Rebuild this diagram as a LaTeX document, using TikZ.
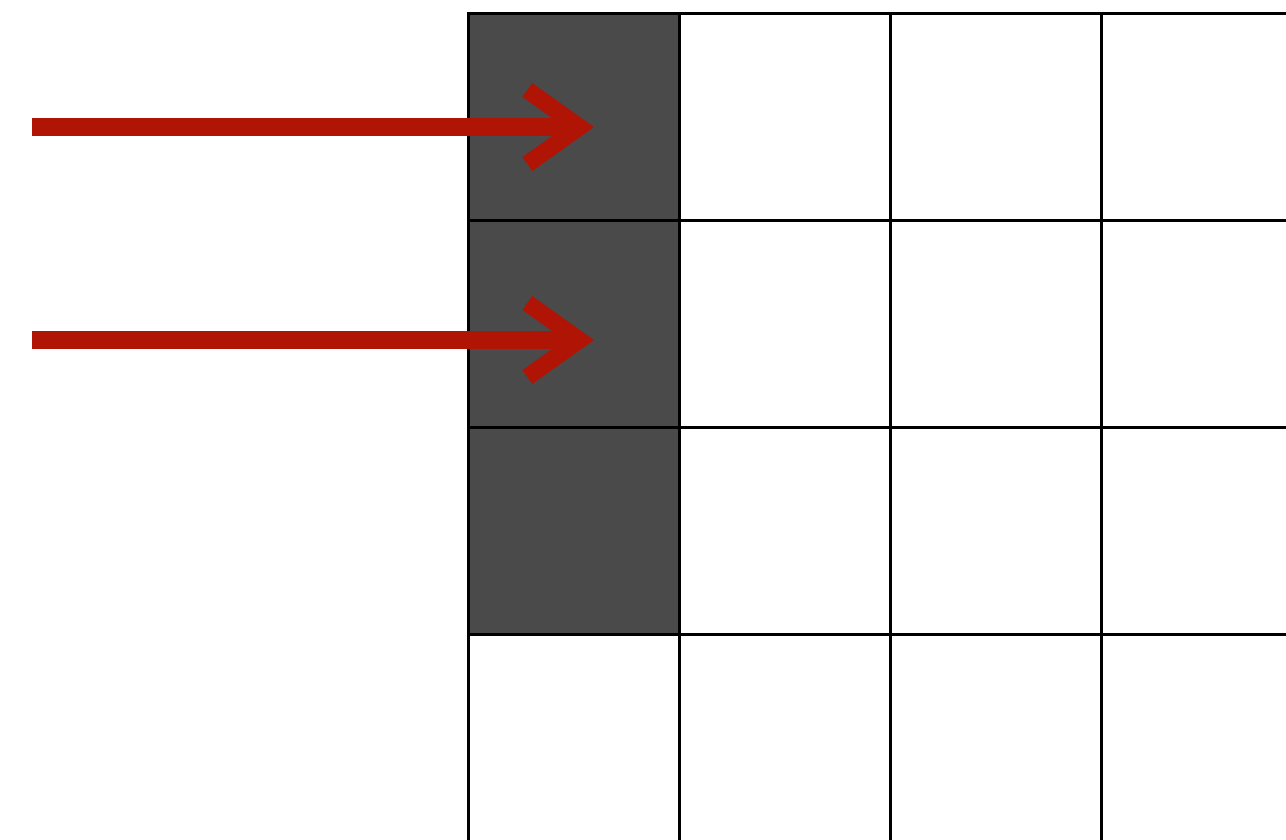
\documentclass[tikz,border=0pt]{standalone}
\usetikzlibrary{arrows.meta}
\definecolor{cellgray}{RGB}{74,74,74}
\definecolor{arrowred}{RGB}{176,20,4}
\tikzset{
  cell/.style={draw=black, line width=3pt, fill=white, rectangle, minimum width=211pt, minimum height=207pt, inner sep=0pt, outer sep=0pt},
  darkcell/.style={cell, fill=cellgray},
  redarrow/.style={draw=arrowred, line width=18pt, -{Straight Barb[length=52pt, width=74pt, line width=17pt]}}
}
\begin{document}
\begin{tikzpicture}[x=1pt, y=-1pt]
\useasboundingbox (0,0) rectangle (1286,839);
\clip (0,0) rectangle (1286,839);
\fill[white] (0,0) rectangle (1286,839);
\foreach \r in {0,...,3}{
  \foreach \c in {0,...,3}{
    \pgfmathsetmacro{\cx}{468+211*\c+105.5}
    \pgfmathsetmacro{\cy}{13+207*\r+103.5}
    \ifnum\c=0
      \ifnum\r<3
        \node[darkcell] (c\r\c) at (\cx,\cy) {};
      \else
        \node[cell] (c\r\c) at (\cx,\cy) {};
      \fi
    \else
      \node[cell] (c\r\c) at (\cx,\cy) {};
    \fi
  }
}
\coordinate (s1) at (32,127);
\coordinate (t1) at (594,127);
\coordinate (s2) at (32,340);
\coordinate (t2) at (594,340);
\draw[redarrow] (s1) -- (t1);
\draw[redarrow] (s2) -- (t2);
\end{tikzpicture}
\end{document}
